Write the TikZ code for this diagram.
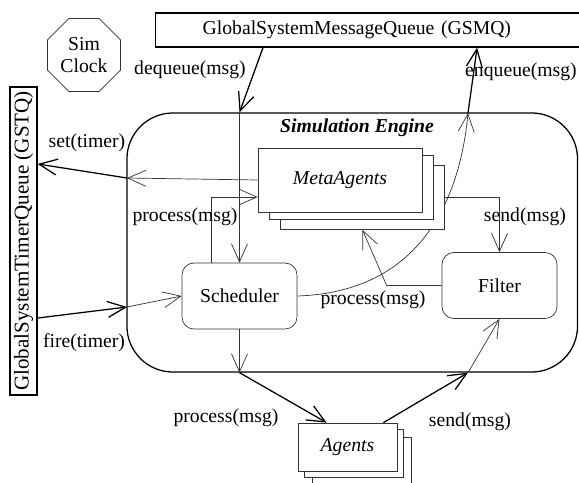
\documentclass[tikz,border=0pt]{standalone}
\usepackage{fontspec}
\setmainfont{Liberation Serif}
\usepackage{tikz}
\usetikzlibrary{
  arrows.meta,
  calc,
  shapes.geometric
}

\begin{document}
\begin{tikzpicture}[
      x=0.025cm, y=-0.025cm,
      every node/.style={font=\fontsize{14}{16}\selectfont},
      queue/.style={draw, line width=0.9pt, inner sep=0pt},
      engine/.style={draw, line width=0.9pt, rounded corners=1.15cm,
                     minimum width=11.2625cm, minimum height=6.475cm, inner sep=0pt},
      unit/.style={draw=black!80, line width=0.5pt, rounded corners=0.3cm,
                   minimum width=2.875cm, minimum height=1.65cm, inner sep=0pt},
      clock/.style={draw=black!80, line width=0.5pt, regular polygon,
                    regular polygon sides=8, minimum size=1.975cm,
                    inner sep=0pt, align=center},
      meta/.style={draw=black!80, line width=0.5pt, fill=white,
                   minimum width=4.1cm, minimum height=1.6cm, inner sep=0pt},
      agent/.style={draw=black!80, line width=0.5pt, fill=white,
                    minimum width=2.475cm, minimum height=1.2cm, inner sep=0pt},
      outer/.style={line width=0.9pt},
      inner/.style={draw=black!80, line width=0.5pt},
      arr/.style={-{Straight Barb[length=4.5mm,width=4mm]}},
      msg/.style={inner sep=1pt}
  ]
      \useasboundingbox (0,0) rectangle (579,482);

      % Queues and clock
      \node[queue, anchor=west, minimum width=10.875cm, minimum height=0.85cm,
            text width=8.525cm, inner xsep=1.175cm, align=left]
            (gsmq) at (155,30) {GlobalSystemMessageQueue (GSMQ)};
      \node[queue, rotate=90, minimum width=7.7cm, minimum height=0.675cm,
            font=\fontsize{15}{17}\selectfont]
            (gstq) at (23.5,241) {GlobalSystemTimerQueue (GSTQ)};
      \node[clock] (clock) at (84,55) {Sim\\Clock};

      % Engine
      \node[engine] (engine) at (352.25,242.5) {};
      \node[font=\fontsize{14}{16}\selectfont\bfseries\itshape]
            (title) at (357,128) {Simulation Engine};
      \node[unit] (sched)  at (239.5,296)  {Scheduler};
      \node[unit] (filter) at (499.5,285.5) {Filter};

      % Crossing points on the engine border
      \coordinate (dq) at (sched.north |- engine.north);
      \coordinate (eq) at (468,113);
      \coordinate (st) at (127,178);
      \coordinate (ft) at (127,307);
      \coordinate (pa) at (sched.south |- engine.south);
      \coordinate (sa) at (eq |- engine.south);

      % enqueue runs behind the MetaAgents stack
      \draw[inner, arr] (sched.east) .. controls (420,292) and (460,200) .. (eq);
      \draw[outer, arr] (eq) -- ([xshift=8.05cm]gsmq.south west);

      % MetaAgents stack
      \node[meta] (meta3) at (362.5,197.5) {};
      \node[meta] (meta2) at (351,187) {};
      \node[meta, font=\fontsize{14}{16}\selectfont\itshape] (meta) at (340,180) {MetaAgents};

      % Agents stack
      \node[agent] (agents3) at (361.5,461) {};
      \node[agent] (agents2) at (353.5,453) {};
      \node[agent, font=\fontsize{14}{16}\selectfont\itshape] (agents) at (347.5,447) {Agents};

      % Connectors
      \draw[outer, arr] ([xshift=2.7cm]gsmq.south west) -- (dq);
      \draw[inner, arr] (dq) -- (sched.north);

      \draw[inner, arr] (meta.west) -- (st);
      \draw[outer, arr] (st) -- ([yshift=1.925cm]gstq.south);

      \draw[outer, arr] ([yshift=-1.925cm]gstq.south) -- (ft);
      \draw[inner, arr] (ft) -- (sched.west);

      \draw[inner, arr] ([xshift=-0.7125cm]sched.north) |- ([yshift=-0.425cm]meta.west);

      \draw[inner, arr] (sched.south) -- (pa);
      \draw[outer, arr] (pa) -- ([xshift=0.725cm]agents.north west);

      \draw[inner, arr] (filter.west) -- ++(-55,0) -- (meta3.south);
      \draw[inner, arr] (meta3.east) -| (filter.north);

      \draw[outer, arr] ([xshift=-0.35cm]agents.north east) -- (sa);
      \draw[inner, arr] (sa) -- (filter.south);

      % Messages
      \node[msg] (m1) at (190,70)  {dequeue(msg)};
      \node[msg] (m2) at (521,72)  {enqueue(msg)};
      \node[msg] (m3) at (87,143)  {set(timer)};
      \node[msg] (m4) at (84,343)  {fire(timer)};
      \node[msg] (m5) at (185,217) {process(msg)};
      \node[msg] (m6) at (226,418) {process(msg)};
      \node[msg] (m7) at (373,300) {process(msg)};
      \node[msg] (m8) at (525,217) {send(msg)};
      \node[msg] (m9) at (470,422) {send(msg)};
  \end{tikzpicture}
\end{document}
